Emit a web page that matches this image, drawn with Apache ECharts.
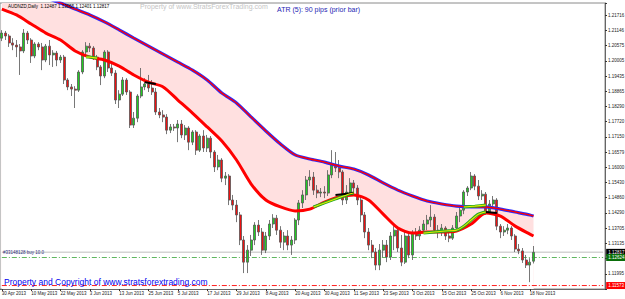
<!DOCTYPE html>
<html><head><meta charset="utf-8">
<script src="https://cdn.jsdelivr.net/npm/echarts@6.0.0/dist/echarts.min.js"></script>
<style>html,body{margin:0;padding:0;background:#fff;}#c{width:625px;height:299px;}</style>
</head><body><div id="c"></div>
<script>
// ---------- DATA ----------
const dates = ['30 Apr 2013',
'1 May 2013','2 May 2013','3 May 2013','6 May 2013','7 May 2013','8 May 2013','9 May 2013','10 May 2013','13 May 2013','14 May 2013','15 May 2013','16 May 2013','17 May 2013','20 May 2013','21 May 2013','22 May 2013','23 May 2013','24 May 2013','27 May 2013','28 May 2013','29 May 2013','30 May 2013','31 May 2013',
'3 Jun 2013','4 Jun 2013','5 Jun 2013','6 Jun 2013','7 Jun 2013','10 Jun 2013','11 Jun 2013','12 Jun 2013','13 Jun 2013','14 Jun 2013','17 Jun 2013','18 Jun 2013','19 Jun 2013','20 Jun 2013','21 Jun 2013','24 Jun 2013','25 Jun 2013','26 Jun 2013','27 Jun 2013','28 Jun 2013',
'1 Jul 2013','2 Jul 2013','3 Jul 2013','4 Jul 2013','5 Jul 2013','8 Jul 2013','9 Jul 2013','10 Jul 2013','11 Jul 2013','12 Jul 2013','15 Jul 2013','16 Jul 2013','17 Jul 2013','18 Jul 2013','19 Jul 2013','22 Jul 2013','23 Jul 2013','24 Jul 2013','25 Jul 2013','26 Jul 2013','29 Jul 2013','30 Jul 2013','31 Jul 2013',
'1 Aug 2013','2 Aug 2013','5 Aug 2013','6 Aug 2013','7 Aug 2013','8 Aug 2013','9 Aug 2013','12 Aug 2013','13 Aug 2013','14 Aug 2013','15 Aug 2013','16 Aug 2013','19 Aug 2013','20 Aug 2013','21 Aug 2013','22 Aug 2013','23 Aug 2013','26 Aug 2013','27 Aug 2013','28 Aug 2013','29 Aug 2013','30 Aug 2013',
'2 Sep 2013','3 Sep 2013','4 Sep 2013','5 Sep 2013','6 Sep 2013','9 Sep 2013','10 Sep 2013','11 Sep 2013','12 Sep 2013','13 Sep 2013','16 Sep 2013','17 Sep 2013','18 Sep 2013','19 Sep 2013','20 Sep 2013','23 Sep 2013','24 Sep 2013','25 Sep 2013','26 Sep 2013','27 Sep 2013','30 Sep 2013',
'1 Oct 2013','2 Oct 2013','3 Oct 2013','4 Oct 2013','7 Oct 2013','8 Oct 2013','9 Oct 2013','10 Oct 2013','11 Oct 2013','14 Oct 2013','15 Oct 2013','16 Oct 2013','17 Oct 2013','18 Oct 2013','21 Oct 2013','22 Oct 2013','23 Oct 2013','24 Oct 2013','25 Oct 2013','28 Oct 2013','29 Oct 2013','30 Oct 2013','31 Oct 2013',
'1 Nov 2013','4 Nov 2013','5 Nov 2013','6 Nov 2013','7 Nov 2013','8 Nov 2013','11 Nov 2013','12 Nov 2013','13 Nov 2013','14 Nov 2013','15 Nov 2013','18 Nov 2013','19 Nov 2013'];

// [open, close, low, high]
const candles = [
[1.2085,1.2104,1.2074,1.2115],[1.2104,1.2093,1.2078,1.2112],[1.2093,1.2067,1.2052,1.2100],[1.2067,1.2059,1.2040,1.2085],
[1.2059,1.2052,1.2014,1.2078],[1.2052,1.2037,1.1947,1.2063],[1.2037,1.2104,1.2029,1.2119],[1.2104,1.2078,1.2063,1.2112],
[1.2078,1.2018,1.1992,1.2085],[1.2018,1.2063,1.2010,1.2070],[1.2063,1.2052,1.2040,1.2070],[1.2052,1.2003,1.1965,1.2067],
[1.2003,1.2055,1.1995,1.2063],[1.2055,1.2022,1.1984,1.2078],[1.2022,1.2029,1.1977,1.2040],[1.2029,1.2003,1.1980,1.2037],
[1.2003,1.2014,1.1992,1.2022],[1.2014,1.1928,1.1913,1.2022],[1.1928,1.1902,1.1890,1.1935],[1.1902,1.1894,1.1868,1.1913],
[1.1894,1.1890,1.1823,1.1905],[1.1890,1.1958,1.1883,1.1965],[1.1958,1.2033,1.1950,1.2040],[1.2033,1.2055,1.2022,1.2070],
[1.2055,1.2048,1.2033,1.2067],[1.2048,1.2014,1.2003,1.2055],[1.2014,1.1977,1.1965,1.2022],[1.1977,1.1943,1.1909,1.1984],
[1.1943,1.2033,1.1935,1.2040],[1.2033,1.1973,1.1958,1.2040],[1.1973,1.1954,1.1943,1.1995],[1.1954,1.1853,1.1838,1.1965],
[1.1853,1.1875,1.1823,1.1890],[1.1875,1.1928,1.1868,1.1939],[1.1928,1.1883,1.1872,1.1935],[1.1883,1.1759,1.1748,1.1890],
[1.1759,1.1785,1.1748,1.1808],[1.1785,1.1868,1.1770,1.1875],[1.1868,1.1902,1.1860,1.1973],[1.1902,1.1913,1.1890,1.1935],
[1.1913,1.1898,1.1883,1.1947],[1.1898,1.1883,1.1872,1.1928],[1.1883,1.1808,1.1797,1.1898],[1.1808,1.1797,1.1785,1.1823],
[1.1797,1.1789,1.1770,1.1815],[1.1789,1.1740,1.1725,1.1800],[1.1740,1.1752,1.1729,1.1763],[1.1752,1.1748,1.1737,1.1763],
[1.1748,1.1763,1.1695,1.1778],[1.1763,1.1722,1.1710,1.1778],[1.1722,1.1748,1.1703,1.1759],[1.1748,1.1695,1.1665,1.1755],
[1.1695,1.1733,1.1684,1.1740],[1.1733,1.1665,1.1647,1.1740],[1.1665,1.1718,1.1658,1.1725],[1.1718,1.1673,1.1658,1.1740],
[1.1673,1.1710,1.1658,1.1722],[1.1710,1.1658,1.1635,1.1718],[1.1658,1.1602,1.1583,1.1665],[1.1602,1.1628,1.1590,1.1647],
[1.1628,1.1560,1.1545,1.1635],[1.1560,1.1568,1.1534,1.1583],[1.1568,1.1478,1.1459,1.1575],[1.1478,1.1459,1.1440,1.1497],
[1.1459,1.1422,1.1395,1.1478],[1.1422,1.1328,1.1309,1.1433],[1.1328,1.1245,1.1204,1.1343],[1.1245,1.1290,1.1204,1.1309],
[1.1290,1.1328,1.1268,1.1347],[1.1328,1.1384,1.1309,1.1395],[1.1384,1.1358,1.1343,1.1403],[1.1358,1.1290,1.1272,1.1373],
[1.1290,1.1343,1.1279,1.1358],[1.1343,1.1388,1.1328,1.1403],[1.1388,1.1410,1.1373,1.1425],[1.1410,1.1365,1.1347,1.1422],
[1.1365,1.1320,1.1298,1.1380],[1.1320,1.1343,1.1290,1.1358],[1.1343,1.1309,1.1290,1.1365],[1.1309,1.1328,1.1272,1.1343],
[1.1328,1.1403,1.1313,1.1410],[1.1403,1.1467,1.1384,1.1478],[1.1467,1.1497,1.1448,1.1515],[1.1497,1.1553,1.1478,1.1568],
[1.1553,1.1564,1.1530,1.1590],[1.1564,1.1515,1.1497,1.1583],[1.1515,1.1504,1.1485,1.1534],[1.1504,1.1508,1.1489,1.1523],
[1.1508,1.1504,1.1485,1.1530],[1.1504,1.1572,1.1493,1.1590],[1.1572,1.1609,1.1560,1.1665],[1.1609,1.1598,1.1583,1.1658],
[1.1598,1.1583,1.1560,1.1628],[1.1583,1.1478,1.1459,1.1590],[1.1478,1.1508,1.1463,1.1534],[1.1508,1.1542,1.1493,1.1560],
[1.1542,1.1523,1.1508,1.1553],[1.1523,1.1478,1.1459,1.1534],[1.1478,1.1422,1.1395,1.1493],[1.1422,1.1358,1.1335,1.1433],
[1.1358,1.1309,1.1290,1.1373],[1.1309,1.1283,1.1260,1.1328],[1.1283,1.1234,1.1215,1.1298],[1.1234,1.1290,1.1215,1.1313],
[1.1290,1.1309,1.1264,1.1328],[1.1309,1.1264,1.1245,1.1328],[1.1264,1.1343,1.1253,1.1358],[1.1343,1.1365,1.1290,1.1380],
[1.1365,1.1298,1.1283,1.1380],[1.1298,1.1245,1.1230,1.1347],[1.1245,1.1343,1.1238,1.1358],[1.1343,1.1272,1.1260,1.1358],
[1.1272,1.1354,1.1253,1.1365],[1.1354,1.1343,1.1328,1.1373],[1.1343,1.1365,1.1328,1.1380],[1.1365,1.1388,1.1358,1.1403],
[1.1388,1.1403,1.1365,1.1422],[1.1403,1.1414,1.1377,1.1459],[1.1414,1.1365,1.1354,1.1425],[1.1365,1.1358,1.1335,1.1384],
[1.1358,1.1373,1.1343,1.1388],[1.1373,1.1343,1.1328,1.1380],[1.1343,1.1335,1.1320,1.1365],[1.1335,1.1373,1.1328,1.1384],
[1.1373,1.1418,1.1365,1.1433],[1.1418,1.1440,1.1395,1.1459],[1.1440,1.1508,1.1425,1.1515],[1.1508,1.1523,1.1493,1.1530],
[1.1523,1.1568,1.1515,1.1583],[1.1568,1.1530,1.1515,1.1575],[1.1530,1.1493,1.1478,1.1553],[1.1493,1.1500,1.1478,1.1515],
[1.1500,1.1433,1.1422,1.1508],[1.1433,1.1463,1.1425,1.1478],[1.1463,1.1478,1.1448,1.1493],[1.1478,1.1380,1.1365,1.1485],
[1.1380,1.1358,1.1335,1.1388],[1.1358,1.1365,1.1343,1.1380],[1.1365,1.1373,1.1350,1.1388],[1.1373,1.1343,1.1328,1.1380],
[1.1343,1.1294,1.1283,1.1350],[1.1294,1.1287,1.1275,1.1313],[1.1287,1.1253,1.1242,1.1298],[1.1253,1.1234,1.1223,1.1272],
[1.1234,1.1245,1.1170,1.1260],[1.12487,1.12817,1.12401,1.13055]];

// upper / lower envelope lines (read every 4th bar)
const bandIdx  = [0,4,8,12,16,20,24,28,32,36,40,44,48,52,56,60,64,68,72,76,80,84,88,92,96,100,104,108,112,116,120,124,128,132,136,140,144,145];
const upperVal = [1.2303,1.2281,1.2258,1.2236,1.2217,1.2194,1.2172,1.2146,1.2116,1.2085,1.2055,1.2025,1.1995,1.1965,1.1928,1.1879,1.1842,1.1789,1.1737,1.1688,1.1647,1.1632,1.1620,1.1605,1.1594,1.1572,1.1542,1.1515,1.1493,1.1474,1.1463,1.1455,1.1452,1.1452,1.1444,1.1433,1.1422,1.1418];
const lowerVal = [1.2194,1.2172,1.2138,1.2104,1.2078,1.2037,1.2014,1.2003,1.1980,1.1947,1.1920,1.1902,1.1853,1.1804,1.1752,1.1699,1.1628,1.1538,1.1478,1.1452,1.1437,1.1444,1.1470,1.1489,1.1497,1.1478,1.1425,1.1373,1.1354,1.1358,1.1358,1.1362,1.1388,1.1429,1.1418,1.1380,1.1350,1.1343];

// green/yellow highlighted stretches
const greenSegs = [
  {idx:[23,24,25,26], val:[1.2014,1.2014,1.2012,1.2010]},
  {idx:[85,88,91,94,96], val:[1.1452,1.1467,1.1482,1.1497,1.1504]},
  {idx:[115,118,121,124,126,128,130,132], val:[1.1354,1.1358,1.1362,1.1365,1.1380,1.1403,1.1425,1.1433]},
  {idx:[126,129,132], val:[1.1452,1.1455,1.1459]}
];
const blackSegs = [
  {idx:[39,42], val:[1.1920,1.1913]},
  {idx:[91,96], val:[1.1497,1.1504]},
  {idx:[132,135], val:[1.1433,1.1429]}
];

const bidPrice = 1.12817, orderPrice = 1.12624, stopPrice = 1.11573;
const orderText = '#33148128 buy 10.0';
const yMin = 1.11443, yMax = 1.22168, yStep = 0.005705;
const yTickLabels = ['', '1.11995', '', '1.13135', '1.13705', '1.14290', '1.14860', '1.15430', '1.16000', '1.16579', '1.17150', '1.17720', '1.18290', '1.18865', '1.19435', '1.20005', '1.20575', '1.21146', '1.21716'];
const headerText = 'AUDNZD,Daily  1.12487 1.13055 1.12401 1.12817';

// ---------- CHART ----------
const padCount = 19;
const cats = dates.slice();
for (let k = 0; k < padCount; k++) cats.push('pad' + k);
const lastIdx = dates.length - 1;
const lastCat = cats.length - 1;
const pairs = (idx, val) => idx.map((x, k) => [x, val[k]]);
const upperPairs = pairs(bandIdx, upperVal);
const lowerPairs = pairs(bandIdx, lowerVal);
const FONT = 'Liberation Sans, Arial, sans-serif';
const showTick = (i) => i % 8 === 0 && i <= lastIdx;
const SM = 0.25;

function levelSeries(price, color, type, width, boxColor, z) {
  return {type:'line', data:[[0, price], [lastCat, price]], symbol:'none', z:z, silent:true,
    lineStyle:{color:color, type:type, width:width},
    endLabel:{show:!!boxColor, formatter:price.toFixed(5), backgroundColor:boxColor, color:'#fff',
      fontSize:4.5, fontFamily:FONT, padding:[1,2,1,2], distance:3}};
}

const series = [
  {type:'line', data:upperPairs, symbol:'none', smooth:SM, z:1, silent:true,
   lineStyle:{width:0}, areaStyle:{color:'#ffe0e0', opacity:1, origin:'start'}},
  {type:'line', data:lowerPairs, symbol:'none', smooth:SM, z:1, silent:true,
   lineStyle:{width:0}, areaStyle:{color:'#ffffff', opacity:1, origin:'start'}},
  levelSeries(bidPrice, '#d4d4d4', 'solid', 1.5, '#000000', 2),
  levelSeries(orderPrice, '#5fb65f', [5,2,1,2], 1, '#0a6e0a', 2),
  levelSeries(stopPrice, '#ff2020', [5,2,1,2], 1, '#ff0000', 2),
  {type:'candlestick', data:candles, z:3, barWidth:2.5,
   itemStyle:{color:'#22cc22', color0:'#ee1111', borderColor:'#555', borderColor0:'#555', borderWidth:0.8}},
  {type:'line', data:upperPairs, symbol:'none', smooth:SM, z:4, silent:true, lineStyle:{color:'#2a2aff', width:3.2}},
  {type:'line', data:upperPairs, symbol:'none', smooth:SM, z:5, silent:true, lineStyle:{color:'#ff0000', width:1.4}},
  {type:'line', data:lowerPairs, symbol:'none', smooth:SM, z:4, silent:true, lineStyle:{color:'#ff0000', width:3}}
];
greenSegs.forEach(s => {
  const d = pairs(s.idx, s.val);
  series.push({type:'line', data:d, symbol:'none', smooth:SM, z:6, silent:true, lineStyle:{color:'#22aa22', width:3}});
  series.push({type:'line', data:d, symbol:'none', smooth:SM, z:7, silent:true, lineStyle:{color:'#e8e800', width:1.1}});
});
blackSegs.forEach(s => {
  series.push({type:'line', data:pairs(s.idx, s.val), symbol:'none', z:6, silent:true, lineStyle:{color:'#000', width:2}});
});

const chart = echarts.init(document.getElementById('c'), null, {renderer:'svg'});
chart.setOption({
  animation:false,
  backgroundColor:'#ffffff',
  textStyle:{fontFamily:FONT},
  title:[
    {text:headerText, left:8, top:4, padding:0, textStyle:{fontSize:4.5, color:'#000', fontWeight:'normal', fontFamily:FONT}},
    {text:'Property of www.StratsForexTrading.com', left:140, top:3, padding:0, textStyle:{fontSize:7, color:'#c4c4c4', fontWeight:'normal', fontFamily:FONT}},
    {text:'ATR (5): 90 pips (prior bar)', left:277, top:6, padding:0, textStyle:{fontSize:7, color:'#1e1eb4', fontWeight:'normal', fontFamily:FONT}},
    {text:orderText, left:3, top:250, padding:0, textStyle:{fontSize:4.5, color:'#303080', fontWeight:'normal', fontFamily:FONT}},
    {text:'Property and Copyright of www.stratsforextrading.com', left:4, top:277, padding:0, textStyle:{fontSize:8.5, color:'#0000ee', fontWeight:'normal', fontFamily:FONT}}
  ],
  grid:{left:0, right:20, top:3, bottom:10, show:true, borderColor:'#8a8a8a', borderWidth:1, backgroundColor:'transparent', containLabel:false, outerBoundsMode:'none'},
  xAxis:{type:'category', data:cats, boundaryGap:true,
    axisLine:{show:true, lineStyle:{color:'#666', width:1}},
    axisTick:{show:true, interval:(i)=>showTick(i), alignWithLabel:true, length:2, lineStyle:{color:'#333'}},
    axisLabel:{interval:(i)=>showTick(i), fontSize:4.5, color:'#222', align:'left', margin:2, fontFamily:FONT},
    splitLine:{show:false}},
  yAxis:{type:'value', position:'right', min:yMin, max:yMax, interval:yStep, scale:true,
    axisLine:{show:true, lineStyle:{color:'#666', width:1}},
    axisTick:{show:true, length:2, lineStyle:{color:'#333'}},
    axisLabel:{fontSize:4.5, color:'#222', margin:3, fontFamily:FONT,
      formatter:(v)=>{ const k = Math.round((v - yMin) / yStep); return yTickLabels[k] || ''; }},
    splitLine:{show:false}},
  series:series
});
</script></body></html>
